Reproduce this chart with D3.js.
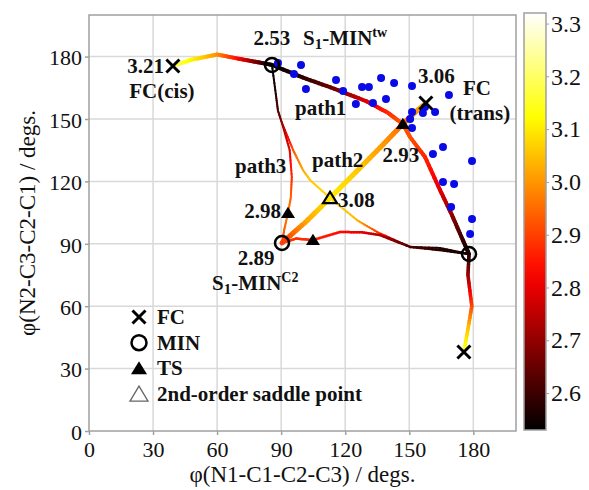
<!DOCTYPE html>
<html>
<head>
<meta charset="utf-8">
<script src="https://cdn.jsdelivr.net/npm/d3@7"></script>
<style>
body{margin:0;background:#fff}
svg text{font-family:"Liberation Serif","Times New Roman",Times,"Tinos",serif}
</style>
</head>
<body>
<div id="chart"></div>
<script>
// 数据: [phi1, phi2, energy]
const pathCis = [[39.3,175.5,3.21],[48,178.5,3.12],[60,181,3.0],[70,179,2.84],[78,177.5,2.68],[85.7,176,2.53]]
const path1 = [[85.7,176,2.53],[100,170,2.58],[115,164.5,2.66],[130,158.5,2.78],[140,153,2.87],[147,147.6,2.93],[150.4,141.3,2.92],[157.4,131.7,2.87],[164.4,115.9,2.8],[170,103.8,2.7],[175,92,2.6],[178,85.1,2.56]]
const path2 = [[157.8,157.7,3.06],[152,152.5,2.99],[147,147.6,2.95],[138,138,3.0],[125,124.5,3.06],[112.9,112,3.1],[101,100,3.02],[90.4,90.4,2.89]]
const path3a = [[85.7,176,2.53],[87.5,162,2.58],[88.5,154,2.62],[90.4,148,2.7],[94,135,2.8],[95,122,2.88],[94.5,112,2.94],[93.2,104.8,2.98],[91.5,97,2.94],[90.4,90.4,2.89]]
const path3b = [[90.4,148,2.7],[95.6,135.1,2.92],[100.2,125.5,3.02],[103.5,120.7,3.06],[112.9,112,3.08],[125.5,101.4,3.04],[134.9,95.7,2.9],[150.4,88.5,2.65],[164.4,88,2.57],[178,85.1,2.56]]
const path4 = [[90.4,90.4,2.89],[97,92.5,2.88],[104.9,91.8,2.87],[117.6,95.7,2.84],[128,95.5,2.8],[136.3,94.2,2.74],[150.4,88.5,2.62],[164.4,87,2.57],[178,85.1,2.56]]
const path5 = [[178,85.1,2.56],[177.5,75,2.7],[179.3,60,2.9],[177.5,49,3.05],[175.6,38,3.15]]

// 停留点
const fcPts = [[39.3,175.5],[157.8,157.7],[175.6,38]]
const minPts = [[85.7,176],[90.4,90.4],[178,85.1]]
const tsPts = [[147,147.6],[93.2,104.8],[104.9,91.8]]
const saddlePts = [[112.9,112]]

// 蓝点
const dots = [[88.5,176.9],[99.3,176],[96,171.6],[101.6,164.4],[115.7,168.8],[119,163.5],[125,157.2],[127.9,165.4],[131.1,165.4],[136.8,169.7],[133,157.7],[139.1,159.6],[142.9,167.3],[151.3,165.9],[168.6,161.5],[151.3,153.4],[156.4,152.9],[162.1,153.4],[157.4,155.8],[150.4,150],[151.3,145.7],[161.1,133.2],[165.8,136.5],[179.4,129.8],[165.8,119.7],[171,118.8],[169.6,107.7],[179.4,101.9],[178.5,94.7]]

const xTicks = [0,30,60,90,120,150,180]
const yTicks = [0,30,60,90,120,150,180]
const cTicks = [2.6,2.7,2.8,2.9,3.0,3.1,3.2,3.3]
const cDomain = [2.53,3.32]

const width = 589, height = 490
const svg = d3.select('#chart').append('svg').attr('width',width).attr('height',height)

const xScale = d3.scaleLinear().domain([0,200]).range([89,516])
const yScale = d3.scaleLinear().domain([0,200]).range([431,15])
// hot colormap
const cs = d3.scaleLinear()
  .domain([cDomain[0], cDomain[0]+0.375*(cDomain[1]-cDomain[0]), cDomain[0]+0.75*(cDomain[1]-cDomain[0]), cDomain[1]])
  .range(['#000000','#ff0000','#ffff00','#ffffff']).clamp(true)

// 网格
svg.append('g').selectAll('line').data(xTicks.slice(1)).join('line')
  .attr('x1',d=>xScale(d)).attr('x2',d=>xScale(d)).attr('y1',yScale(0)).attr('y2',yScale(200))
  .attr('stroke','#d9d9d9').attr('stroke-width',1.5)
svg.append('g').selectAll('line').data(yTicks.slice(1)).join('line')
  .attr('y1',d=>yScale(d)).attr('y2',d=>yScale(d)).attr('x1',xScale(0)).attr('x2',xScale(200))
  .attr('stroke','#d9d9d9').attr('stroke-width',1.5)

// 坐标轴
const xAxis = d3.axisBottom(xScale).tickValues(xTicks).tickSize(4).tickPadding(2)
const yAxis = d3.axisLeft(yScale).tickValues(yTicks).tickSize(4).tickPadding(3)
const gx = svg.append('g').attr('transform',`translate(0,${yScale(0)})`).call(xAxis)
const gy = svg.append('g').attr('transform',`translate(${xScale(0)},0)`).call(yAxis)
for(const g of [gx,gy]){
  g.attr('font-family',null)
  g.select('.domain').remove()
  g.selectAll('line').attr('stroke','#a0a0a0').attr('stroke-width',1.5)
  g.selectAll('text').attr('font-size',22).attr('fill','#111')
}
gx.selectAll('text').attr('dy','0.9em')
gy.selectAll('text').attr('dy','0.38em')
svg.append('rect').attr('x',xScale(0)).attr('y',yScale(200))
  .attr('width',xScale(200)-xScale(0)).attr('height',yScale(0)-yScale(200))
  .attr('fill','none').attr('stroke','#a0a0a0').attr('stroke-width',1.5)

// 轴标题
svg.append('text').text('φ(N1-C1-C2-C3) / degs.').attr('x',(xScale(0)+xScale(200))/2).attr('y',482)
  .attr('text-anchor','middle').attr('font-size',23).attr('fill','#111')
svg.append('text').text('φ(N2-C3-C2-C1) / degs.')
  .attr('transform',`translate(35,${(yScale(0)+yScale(200))/2}) rotate(-90)`)
  .attr('text-anchor','middle').attr('font-size',23).attr('fill','#111')

// 渐变色路径：把每段切成小段
function draw_path(pts, w){
  const g = svg.append('g')
  for(let i=0;i<pts.length-1;i++){
    const a = pts[i], b = pts[i+1]
    const n = 8
    for(let k=0;k<n;k++){
      const t0 = k/n, t1 = (k+1)/n, tm = (k+0.5)/n
      g.append('line')
        .attr('x1',xScale(a[0]+(b[0]-a[0])*t0)).attr('y1',yScale(a[1]+(b[1]-a[1])*t0))
        .attr('x2',xScale(a[0]+(b[0]-a[0])*t1)).attr('y2',yScale(a[1]+(b[1]-a[1])*t1))
        .attr('stroke',cs(a[2]+(b[2]-a[2])*tm)).attr('stroke-width',w).attr('stroke-linecap','round')
    }
  }
}
draw_path(path3a,2)
draw_path(path3b,2)
draw_path(path4,2.5)
draw_path(path2,5)
draw_path(pathCis,4)
draw_path(path1,4)
draw_path(path5,3.5)

// 蓝点
svg.append('g').selectAll('circle').data(dots).join('circle')
  .attr('cx',d=>xScale(d[0])).attr('cy',d=>yScale(d[1])).attr('r',4).attr('fill','#0a0ae6')

// 标记
function draw_x(x,y,s){
  svg.append('path').attr('d',`M${x-s},${y-s}L${x+s},${y+s}M${x-s},${y+s}L${x+s},${y-s}`)
    .attr('stroke','#000').attr('stroke-width',3).attr('fill','none')
}
function draw_o(x,y,r){
  svg.append('circle').attr('cx',x).attr('cy',y).attr('r',r).attr('fill','none').attr('stroke','#000').attr('stroke-width',2.5)
}
function draw_tri(x,y,s,filled){
  const h = s*0.9
  svg.append('path').attr('d',`M${x},${y-h}L${x+s},${y+h*0.8}L${x-s},${y+h*0.8}Z`)
    .attr('fill',filled?'#000':'none').attr('stroke',filled?'none':'#000').attr('stroke-width',2.2)
}
fcPts.forEach(d=>draw_x(xScale(d[0]),yScale(d[1]),6.5))
minPts.forEach(d=>draw_o(xScale(d[0]),yScale(d[1]),7))
tsPts.forEach(d=>draw_tri(xScale(d[0]),yScale(d[1]),7,true))
saddlePts.forEach(d=>draw_tri(xScale(d[0]),yScale(d[1]),7,false))

// 标注文字
function label(txt,x,y,anchor){
  return svg.append('text').text(txt).attr('x',x).attr('y',y).attr('text-anchor',anchor||'start')
    .attr('font-size',21).attr('font-weight','bold').attr('fill','#111')
}
function label_min(x,y,sup){
  const t = svg.append('text').attr('x',x).attr('y',y).attr('font-size',21).attr('font-weight','bold').attr('fill','#111')
  t.append('tspan').text('S')
  t.append('tspan').text('1').attr('font-size',15).attr('dy',4)
  t.append('tspan').text('-MIN').attr('dy',-4)
  t.append('tspan').text(sup).attr('font-size',14).attr('dy',-8)
}
const px = d=>[xScale(d[0]),yScale(d[1])]
let p = px(fcPts[0])
label('3.21',p[0]-9,p[1]+7,'end'); label('FC(cis)',p[0]-11,p[1]+32,'middle')
p = px(minPts[0])
label('2.53',p[0],p[1]-20,'middle'); label_min(p[0]+31,p[1]-20,'tw')
p = px(fcPts[1])
label('3.06',p[0]-8,p[1]-20); label('FC',p[0]+37,p[1]-8); label('(trans)',p[0]+54,p[1]+17,'middle')
p = px(tsPts[0])
label('2.93',p[0]-2,p[1]+38,'middle')
p = px(saddlePts[0])
label('3.08',p[0]+8,p[1]+9)
p = px(tsPts[1])
label('2.98',p[0]-7,p[1]+5,'end')
p = px(minPts[1])
label('2.89',p[0]-26,p[1]+22,'middle'); label_min(p[0]-70,p[1]+47,'C2')
label('path1',295,115)
label('path2',312,167)
label('path3',235,173)

// 图例
const legendItems = ['FC','MIN','TS','2nd-order saddle point']
legendItems.forEach((name,i)=>{
  const y = 317 + i*25.7, x = 139
  if(i===0) draw_x(x,y,6.5)
  if(i===1) draw_o(x,y,7.5)
  if(i===2) draw_tri(x,y,8,true)
  if(i===3){
    svg.append('path').attr('d',`M${x},${y-8}L${x+9},${y+7}L${x-9},${y+7}Z`).attr('fill','none').attr('stroke','#666').attr('stroke-width',1.3)
  }
  label(name,157,y+7)
})

// 色标
const cbScale = d3.scaleLinear().domain(cDomain).range([430,13])
const defs = svg.append('defs')
const grad = defs.append('linearGradient').attr('id','cbar').attr('x1',0).attr('x2',0).attr('y1',1).attr('y2',0)
d3.range(0,1.0001,0.05).forEach(t=>{
  grad.append('stop').attr('offset',t).attr('stop-color',cs(cDomain[0]+t*(cDomain[1]-cDomain[0])))
})
svg.append('rect').attr('x',524).attr('y',cbScale(cDomain[1])).attr('width',22)
  .attr('height',cbScale(cDomain[0])-cbScale(cDomain[1])).attr('fill','url(#cbar)')
  .attr('stroke','#a0a0a0').attr('stroke-width',1.5)
const cAxis = d3.axisRight(cbScale).tickValues(cTicks).tickFormat(d3.format('.1f')).tickSize(3).tickPadding(2)
const gc = svg.append('g').attr('transform','translate(546,0)').call(cAxis)
gc.attr('font-family',null)
gc.select('.domain').remove()
gc.selectAll('line').attr('stroke','#a0a0a0')
gc.selectAll('text').attr('font-size',24).attr('fill','#111')
</script>
</body>
</html>
